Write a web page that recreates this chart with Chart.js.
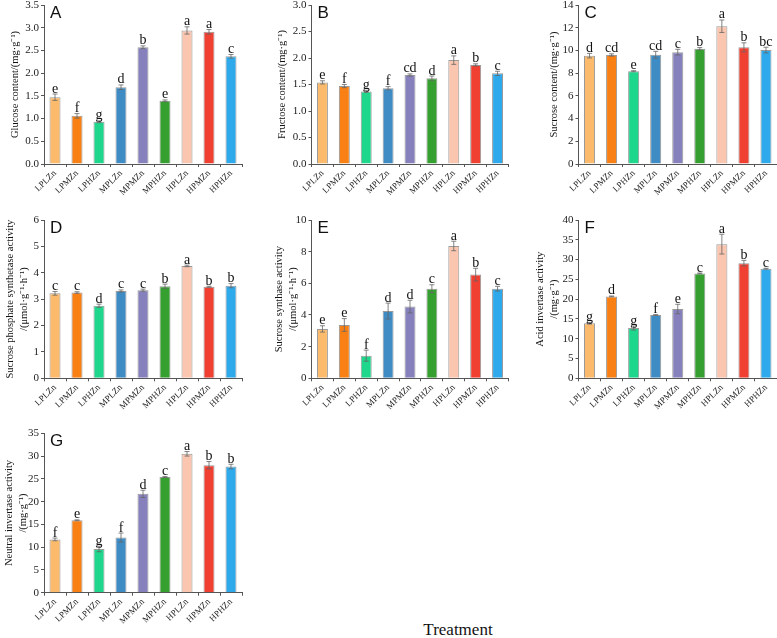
<!DOCTYPE html>
<html><head><meta charset="utf-8">
<script src="https://cdn.jsdelivr.net/npm/chart.js@4.4.1/dist/chart.umd.min.js"></script>
<style>
html,body{margin:0;padding:0;background:#fff;width:777px;height:638px;overflow:hidden;position:relative;}
.p{position:absolute;}
.p canvas{display:block;}
#xt{position:absolute;left:358px;width:200px;top:620px;text-align:center;font:17px "Liberation Serif",serif;color:#111;}
</style></head><body>
<div id="wrap"></div>
<div id="xt">Treatment</div>
<script>
const categories = ['LPLZn','LPMZn','LPHZn','MPLZn','MPMZn','MPHZn','HPLZn','HPMZn','HPHZn'];
const barColors = ['#FBBA6C','#F88015','#1ED68C','#3E8CC3','#8680BC','#35A02F','#FAC6B0','#EF4032','#2EA9EC'];

const glucose    = [1.47,1.06,0.93,1.69,2.57,1.39,2.94,2.91,2.37];
const glucoseErr = [0.07,0.05,0.02,0.05,0.03,0.02,0.08,0.05,0.04];
const glucoseSig = ['e','f','g','d','b','e','a','a','c'];

const fructose    = [1.54,1.47,1.37,1.43,1.68,1.62,1.96,1.87,1.71];
const fructoseErr = [0.03,0.03,0.02,0.03,0.02,0.04,0.08,0.02,0.04];
const fructoseSig = ['e','f','g','f','cd','d','a','b','c'];

const sucrose    = [9.54,9.60,8.17,9.62,9.85,10.15,12.13,10.27,10.03];
const sucroseErr = [0.20,0.10,0.05,0.30,0.25,0.10,0.55,0.40,0.25];
const sucroseSig = ['d','cd','e','cd','c','b','a','b','bc'];

const sps    = [3.22,3.25,2.75,3.31,3.34,3.49,4.26,3.47,3.51];
const spsErr = [0.07,0.03,0.06,0.04,0.04,0.08,0.03,0.02,0.08];
const spsSig = ['c','c','d','c','c','b','a','b','b'];

const ss    = [3.12,3.37,1.43,4.25,4.53,5.66,8.36,6.55,5.66];
const ssErr = [0.20,0.40,0.35,0.50,0.40,0.25,0.30,0.40,0.15];
const ssSig = ['e','e','f','d','d','c','a','b','c'];

const ai    = [13.9,20.7,12.7,16.0,17.5,26.5,33.9,29.1,27.7];
const aiErr = [0.2,0.1,0.5,0.1,1.2,0.1,2.5,0.7,0.1];
const aiSig = ['g','d','g','f','e','c','a','b','c'];

const ni    = [11.7,15.9,9.6,12.1,21.7,25.4,30.5,28.0,27.7];
const niErr = [0.3,0.1,0.6,1.0,0.8,0.1,0.5,0.8,0.5];
const niSig = ['f','e','g','f','d','c','a','b','b'];

const yMax  = {A:3.5, B:3.0, C:14, D:6, E:10, F:40, G:35};
const yStep = {A:0.5, B:0.5, C:2,  D:1, E:2,  F:5,  G:5};

const panels = [
 {id:'A', v:glucose, e:glucoseErr, s:glucoseSig, dec:1, title:'Glucose content/(mg·g⁻¹)',
  left:0, top:-10, w:250, h:215, yW:44, pt:15, pr:8, xH:41, tPad:9},
 {id:'B', v:fructose, e:fructoseErr, s:fructoseSig, dec:1, title:'Fructose content/(mg·g⁻¹)',
  left:255, top:-10, w:258, h:215, yW:56.5, pt:15, pr:4.5, xH:41, tPad:21},
 {id:'C', v:sucrose, e:sucroseErr, s:sucroseSig, dec:0, title:'Sucrose content/(mg·g⁻¹)',
  left:515, top:-10, w:262, h:215, yW:63.5, pt:15, pr:0, xH:41, tPad:33},
 {id:'D', v:sps, e:spsErr, s:spsSig, dec:0, title:['Sucrose phosphate synthetase activity','/(μmol·g⁻¹·h⁻¹)'],
  left:0, top:200, w:250, h:210, yW:44, pt:20, pr:8, xH:31.7, tPad:3},
 {id:'E', v:ss, e:ssErr, s:ssSig, dec:0, title:['Sucrose synthase activity','/(μmol·g⁻¹·h⁻¹)'],
  left:255, top:200, w:258, h:210, yW:56.5, pt:20, pr:4.5, xH:31.7, tPad:17},
 {id:'F', v:ai, e:aiErr, s:aiSig, dec:0, title:['Acid invertase activity','/(mg·g⁻¹)'],
  left:515, top:200, w:262, h:210, yW:63.5, pt:20, pr:0, xH:31.7, tPad:18},
 {id:'G', v:ni, e:niErr, s:niSig, dec:0, title:['Neutral invertase activity','/(mg·g⁻¹)'],
  left:0, top:415, w:250, h:223, yW:44, pt:18.3, pr:8, xH:45.3, tPad:2},
];

const SERIF = '"Liberation Serif","Times New Roman",serif';

const errPlugin = {
  id:'errbars',
  afterDatasetsDraw(chart){
    const p = chart.options.plugins.errbars;
    const meta = chart.getDatasetMeta(0);
    const ys = chart.scales.y;
    const ctx = chart.ctx;
    ctx.save();
    ctx.strokeStyle = '#666';
    ctx.lineWidth = 0.8;
    meta.data.forEach((bar,i)=>{
      const v = p.values[i], e = p.errs[i];
      const x = bar.x;
      const yt = ys.getPixelForValue(v+e), yb = ys.getPixelForValue(v-e);
      ctx.beginPath();
      ctx.moveTo(x,yt); ctx.lineTo(x,yb);
      ctx.moveTo(x-2.5,yt); ctx.lineTo(x+2.5,yt);
      ctx.moveTo(x-2.5,yb); ctx.lineTo(x+2.5,yb);
      ctx.stroke();
    });
    ctx.fillStyle = '#111';
    ctx.font = '14px ' + SERIF;
    ctx.textAlign = 'center';
    ctx.textBaseline = 'alphabetic';
    meta.data.forEach((bar,i)=>{
      const yt = ys.getPixelForValue(p.values[i]+p.errs[i]);
      ctx.fillText(p.sig[i], bar.x, yt - 1.5);
    });
    ctx.font = '17px "Liberation Sans",Arial,sans-serif';
    ctx.textAlign = 'left';
    ctx.fillText(p.letter, chart.chartArea.left + 6, chart.chartArea.top + 12.5);
    ctx.restore();
  }
};

const wrap = document.getElementById('wrap');
panels.forEach(P=>{
  const d = document.createElement('div');
  d.className = 'p';
  d.style.left = P.left+'px'; d.style.top = P.top+'px';
  d.style.width = P.w+'px'; d.style.height = P.h+'px';
  const c = document.createElement('canvas');
  c.width = P.w; c.height = P.h;
  c.style.width = P.w+'px'; c.style.height = P.h+'px';
  d.appendChild(c); wrap.appendChild(d);
  const multi = Array.isArray(P.title);
  new Chart(c, {
    type:'bar',
    data:{labels:categories, datasets:[{data:P.v, backgroundColor:barColors,
      borderColor:'rgba(85,85,85,0.6)', borderWidth:1, barPercentage:0.5, categoryPercentage:1.0}]},
    options:{
      responsive:false, animation:false, devicePixelRatio:1,
      layout:{padding:{top:P.pt, right:P.pr, left:0, bottom:0}},
      plugins:{legend:{display:false}, tooltip:{enabled:false},
        errbars:{values:P.v, errs:P.e, sig:P.s, letter:P.id}},
      scales:{
        x:{
          offset:true,
          grid:{display:true, drawOnChartArea:false, drawTicks:true, tickLength:3, color:'#555', offset:true},
          border:{display:true, color:'#555', width:1},
          ticks:{font:{family:SERIF, size:9}, color:'#222', minRotation:45, maxRotation:45, autoSkip:false, padding:1},
          afterFit(s){ s.height = P.xH; }
        },
        y:{
          min:0, max:yMax[P.id],
          grid:{display:true, drawOnChartArea:false, drawTicks:true, tickLength:3, color:'#555'},
          border:{display:true, color:'#555', width:1},
          ticks:{stepSize:yStep[P.id], font:{family:SERIF, size:11}, color:'#222', padding:2,
            callback:(v)=>Number(v).toFixed(P.dec)},
          title:{display:true, text:P.title, color:'#111',
            font:{family:SERIF, size:10.5, lineHeight: multi?1.35:1.2},
            padding:{top:P.tPad, bottom:0}},
          afterFit(s){ s.width = P.yW; }
        }
      }
    },
    plugins:[errPlugin]
  });
});
</script>
</body></html>
